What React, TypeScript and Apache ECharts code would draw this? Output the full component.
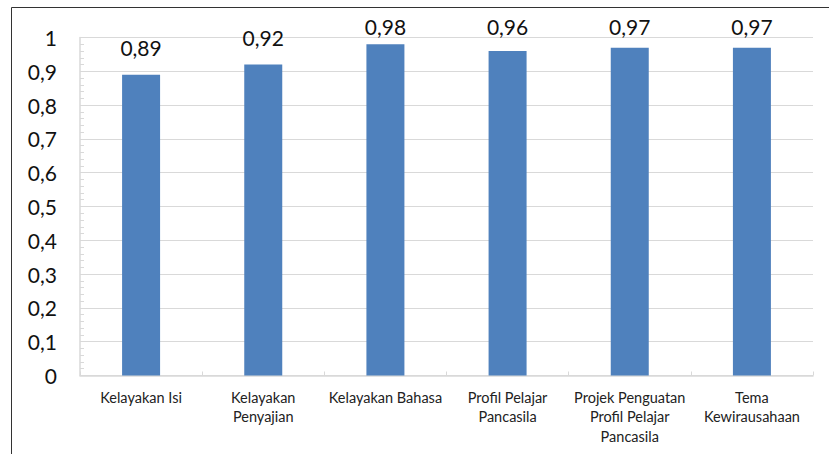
import React, { useEffect, useRef } from "react";
import * as echarts from "echarts";

const categories = [
  "Kelayakan Isi",
  "Kelayakan\nPenyajian",
  "Kelayakan Bahasa",
  "Profil Pelajar\nPancasila",
  "Projek Penguatan\nProfil Pelajar\nPancasila",
  "Tema\nKewirausahaan",
];
const values = [0.89, 0.92, 0.98, 0.96, 0.97, 0.97];

const fmt = (v: number) => String(Math.round(v * 100) / 100).replace(".", ",");

export default function App() {
  const ref = useRef<HTMLDivElement>(null);
  useEffect(() => {
    if (!ref.current) return;
    const chart = echarts.init(ref.current, null, { renderer: "svg" });
    const font = "Lato, 'Open Sans', sans-serif";
    chart.setOption({
      animation: false,
      backgroundColor: "#fff",
      textStyle: { fontFamily: font },
      graphic: [
        {
          type: "rect",
          shape: { x: 11.5, y: 7.5, width: 900, height: 600 },
          style: { fill: "none", stroke: "#333", lineWidth: 1 },
          silent: true,
        },
      ],
      grid: { left: 80, right: 16, top: 37.5, bottom: 78.5 },
      xAxis: {
        type: "category",
        data: categories,
        axisLine: { lineStyle: { color: "#d9d9d9", width: 1.5 } },
        axisTick: { show: true, inside: true, length: 4, lineStyle: { color: "#d9d9d9" } },
        axisLabel: {
          interval: 0,
          fontSize: 14.5,
          lineHeight: 19.5,
          color: "#222",
          margin: 12,
          fontFamily: font,
        },
      },
      yAxis: {
        type: "value",
        min: 0,
        max: 1,
        interval: 0.1,
        axisLine: { show: true, lineStyle: { color: "#d9d9d9", width: 1.5 } },
        axisTick: { show: true, inside: true, length: 4, lineStyle: { color: "#d9d9d9" } },
        minorTick: { show: true, splitNumber: 5, length: 4, lineStyle: { color: "#d9d9d9" } },
        splitLine: { show: true, lineStyle: { color: "#d9d9d9", width: 1 } },
        axisLabel: {
          formatter: (v: number) => fmt(v),
          fontSize: 21,
          color: "#111",
          margin: 23,
          fontFamily: font,
        },
      },
      series: [
        {
          type: "bar",
          data: values,
          barWidth: 38,
          itemStyle: { color: "#4F81BD" },
          label: {
            show: true,
            position: "top",
            distance: 17,
            fontSize: 21,
            color: "#111",
            fontFamily: font,
            formatter: (p: any) => fmt(p.value),
          },
          labelLayout: (p: any) => {
            const top = p.labelRect.y;
            const minTop = 16;
            return top < minTop ? { dy: minTop - top } : {};
          },
        },
      ],
    });
    return () => chart.dispose();
  }, []);
  return (
    <div
      ref={ref}
      style={{ position: "absolute", left: 0, top: 0, width: 829, height: 454 }}
    />
  );
}
